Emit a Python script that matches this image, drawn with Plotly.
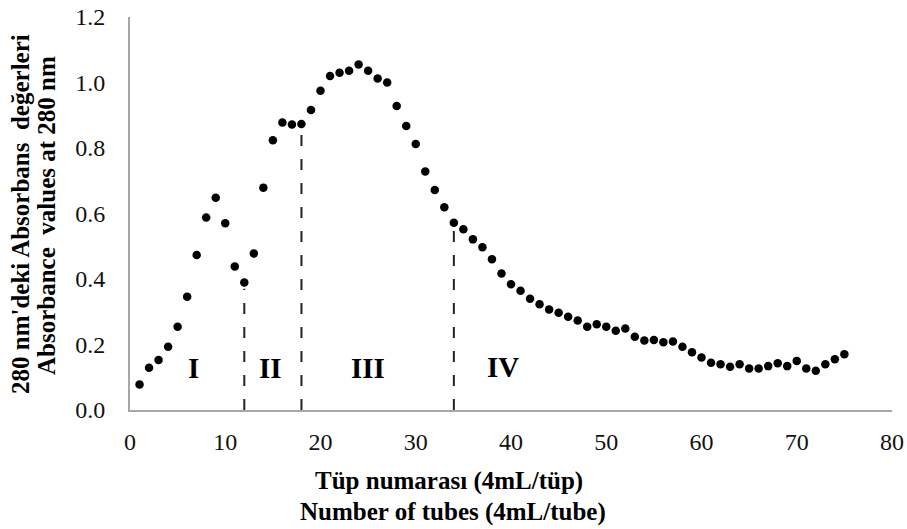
import plotly.graph_objects as go

tubes = list(range(1, 76))
absorbance = [
    0.078, 0.129, 0.153, 0.193, 0.254, 0.346, 0.473, 0.588, 0.648, 0.570,
    0.438, 0.389, 0.478, 0.679, 0.824, 0.878, 0.872, 0.873, 0.916, 0.975,
    1.020, 1.030, 1.036, 1.055, 1.036, 1.012, 1.000, 0.928, 0.867, 0.812,
    0.728, 0.672, 0.619, 0.572, 0.552, 0.521, 0.497, 0.460, 0.417, 0.384,
    0.364, 0.340, 0.323, 0.307, 0.297, 0.285, 0.273, 0.254, 0.262, 0.254,
    0.242, 0.249, 0.224, 0.212, 0.214, 0.207, 0.209, 0.193, 0.176, 0.160,
    0.144, 0.140, 0.132, 0.140, 0.127, 0.127, 0.134, 0.143, 0.134, 0.150,
    0.127, 0.120, 0.140, 0.155, 0.170,
]

divider_x = [12, 18, 34]
divider_top = [0.37, 0.85, 0.55]

region_labels = ["I", "II", "III", "IV"]
region_x = [6.7, 14.7, 25.0, 39.2]
region_y = [0.128, 0.128, 0.128, 0.131]

x_ticks = [0, 10, 20, 30, 40, 50, 60, 70, 80]
y_ticks = [0.0, 0.2, 0.4, 0.6, 0.8, 1.0, 1.2]

serif = "Liberation Serif, Times New Roman, serif"

L, R, T, B = 130, 15, 17, 119
W, H = 907, 529

fig = go.Figure()
fig.add_trace(go.Scatter(
    x=tubes, y=absorbance, mode="markers",
    marker=dict(color="black", size=8.5),
    showlegend=False, hoverinfo="x+y",
))

for xv, top in zip(divider_x, divider_top):
    fig.add_shape(type="line", x0=xv, x1=xv, y0=0, y1=top, xref="x", yref="y",
                  line=dict(color="#222222", width=2, dash="11px,13px"))

for lab, xv, yv in zip(region_labels, region_x, region_y):
    fig.add_annotation(x=xv, y=yv, text="<b>%s</b>" % lab, showarrow=False,
                       xref="x", yref="y", xanchor="center", yanchor="middle",
                       font=dict(family=serif, size=29, color="black"))

fig.update_layout(
    width=W, height=H,
    margin=dict(l=L, r=R, t=T, b=B, autoexpand=False),
    paper_bgcolor="white", plot_bgcolor="white",
    font=dict(family=serif, size=24, color="#111111"),
    xaxis=dict(range=[0, 80], tickvals=x_ticks, ticktext=[str(v) for v in x_ticks],
               showgrid=False, zeroline=False, showline=True, automargin=False,
               linecolor="#a6a6a6", linewidth=2,
               ticks="outside", ticklen=9, tickcolor="rgba(0,0,0,0)"),
    yaxis=dict(range=[0, 1.2], tickvals=y_ticks,
               ticktext=["%.1f" % v for v in y_ticks],
               showgrid=False, zeroline=False, showline=True, automargin=False,
               linecolor="#a6a6a6", linewidth=2,
               ticks="outside", ticklen=18, tickcolor="rgba(0,0,0,0)"),
)

plot_w = W - L - R
plot_h = H - T - B

def px_to_paper_x(px):
    return (px - L) / plot_w

def px_to_paper_y(py):
    return (H - B - py) / plot_h

def title(px, py, text, size, angle=0):
    fig.add_annotation(x=px_to_paper_x(px), y=px_to_paper_y(py),
                       xref="paper", yref="paper", xanchor="center", yanchor="middle",
                       text="<b>%s</b>" % text, showarrow=False, textangle=angle,
                       font=dict(family=serif, size=size, color="black"))

title(449, 481, "Tüp numarası (4mL/tüp)", 25)
title(453, 512, "Number of tubes (4mL/tube)", 25)
title(20, 214, "280 nm'deki Absorbans  değerleri", 25, -90)
title(47, 216, "Absorbance  values at 280 nm", 25, -90)

fig.write_html(
    "out.html",
    config={"displayModeBar": False},
    post_script="document.body.style.margin='0';document.body.style.overflow='hidden';",
)
